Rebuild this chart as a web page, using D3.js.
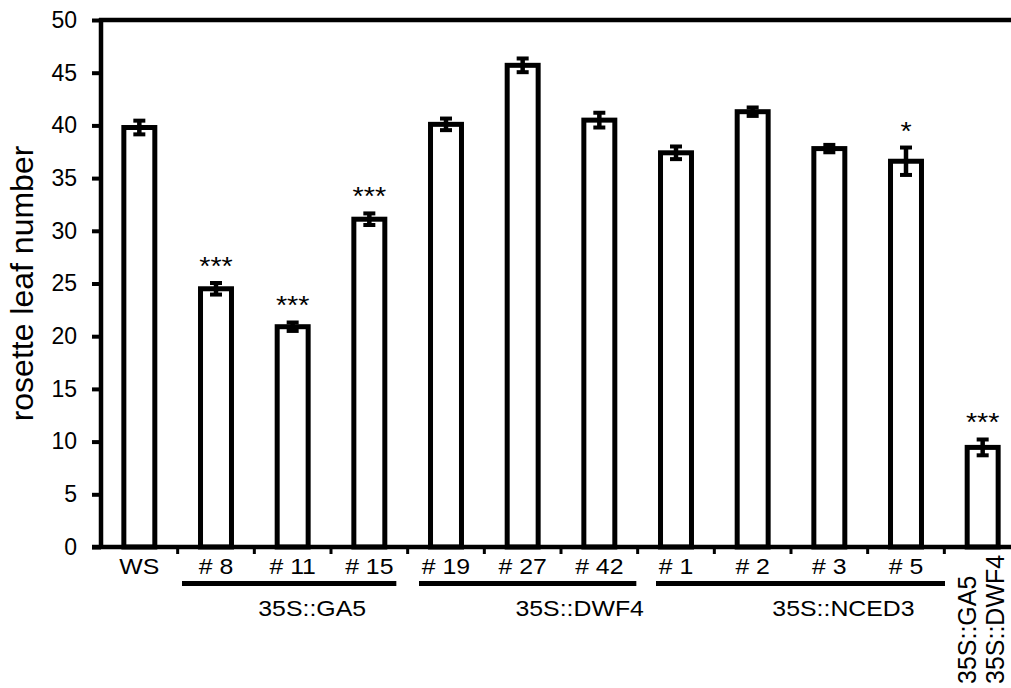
<!DOCTYPE html>
<html>
<head>
<meta charset="utf-8">
<script src="https://cdn.jsdelivr.net/npm/d3@7"></script>
<style>
  html, body { margin: 0; padding: 0; background: #fff; }
  svg { display: block; font-family: "Liberation Sans", Arial, Helvetica, sans-serif; }
</style>
</head>
<body>
<svg id="chart" width="1011" height="688"></svg>
<script>
// ---- data ----
const categories = ["WS", "# 8", "# 11", "# 15", "# 19", "# 27", "# 42", "# 1", "# 2", "# 3", "# 5", "GA5xDWF4"];
const means  = [39.8, 24.5, 20.9, 31.1, 40.1, 45.7, 40.5, 37.4, 41.3, 37.8, 36.6, 9.45];
const errors = [0.65, 0.55, 0.4, 0.55, 0.55, 0.65, 0.7, 0.6, 0.4, 0.35, 1.3, 0.75];
const signif = ["", "***", "***", "***", "", "", "", "", "", "", "*", "***"];
const yTicks = [0, 5, 10, 15, 20, 25, 30, 35, 40, 45, 50];
const groupNames = ["35S::GA5", "35S::DWF4", "35S::NCED3"];
const groupFirst = ["# 8", "# 19", "# 1"];
const groupLast  = ["# 15", "# 42", "# 5"];
const crossLabels = ["35S::GA5", "35S::DWF4"];
const yTitle = "rosette leaf number";

(function () {
// ---- layout ----
const svg = d3.select("#chart");
const pLeft = 101, pRight = 1021, pTop = 20, pBottom = 547, W = 1011;
const x = d3.scaleBand().domain(categories).range([pLeft, pRight]).paddingInner(0.596).paddingOuter(0.298);
const y = d3.scaleLinear().domain([0, 50]).range([pBottom, pTop]);
const cx = c => x(c) + x.bandwidth() / 2;
const step = x.step();

// group line pixel tweaks (start offset from first center, end offset from last center)
const groupLineOff = [[-34, 27], [-27, 37], [-20, 39]];
const groupLabelShift = [23, 52, 43];

// y axis with ticks
const yAxis = d3.axisLeft(y).tickValues(yTicks).tickSize(9).tickPadding(15);
const gy = svg.append("g").attr("transform", `translate(${pLeft},0)`).call(yAxis);
gy.select(".domain").remove();
gy.selectAll(".tick line").attr("stroke", "#000").attr("stroke-width", 4);
gy.selectAll(".tick text").attr("font-size", 23).attr("fill", "#000")
  .attr("font-family", "Liberation Sans, Arial, sans-serif");

// bars
svg.append("g").selectAll("rect").data(categories).join("rect")
  .attr("x", c => x(c))
  .attr("y", (c, i) => y(means[i]))
  .attr("width", x.bandwidth())
  .attr("height", (c, i) => y(0) - y(means[i]))
  .attr("fill", "#fff").attr("stroke", "#000").attr("stroke-width", 5);

// frame lines
svg.append("line").attr("x1", pLeft).attr("x2", pLeft).attr("y1", y(50) - 2).attr("y2", y(0) + 2)
  .attr("stroke", "#000").attr("stroke-width", 4.5);
svg.append("line").attr("x1", pLeft - 2).attr("x2", W).attr("y1", y(50)).attr("y2", y(50))
  .attr("stroke", "#000").attr("stroke-width", 4.5);
svg.append("line").attr("x1", pLeft - 9).attr("x2", W).attr("y1", y(0)).attr("y2", y(0))
  .attr("stroke", "#000").attr("stroke-width", 4.5);

// x ticks at band boundaries
svg.append("g").selectAll("line").data(categories.slice(1)).join("line")
  .attr("x1", c => x(c) - x.paddingInner() * step / 2)
  .attr("x2", c => x(c) - x.paddingInner() * step / 2)
  .attr("y1", y(0)).attr("y2", y(0) + 7)
  .attr("stroke", "#000").attr("stroke-width", 3);

// error bars
const eg = svg.append("g").attr("stroke", "#000");
categories.forEach((c, i) => {
  const xc = cx(c), hi = y(means[i] + errors[i]), lo = y(means[i] - errors[i]);
  eg.append("line").attr("x1", xc).attr("x2", xc).attr("y1", hi).attr("y2", lo).attr("stroke-width", 4.5);
  eg.append("line").attr("x1", xc - 6).attr("x2", xc + 6).attr("y1", hi).attr("y2", hi).attr("stroke-width", 4);
  eg.append("line").attr("x1", xc - 6).attr("x2", xc + 6).attr("y1", lo).attr("y2", lo).attr("stroke-width", 4);
});

// significance
svg.append("g").selectAll("text").data(categories).join("text")
  .attr("transform", (c, i) => `translate(${cx(c)},${y(means[i] + errors[i]) - 8}) scale(1.15,1)`)
  .attr("text-anchor", "middle").attr("font-size", 25).attr("fill", "#000")
  .text((c, i) => signif[i]);

// x labels
svg.append("g").selectAll("text").data(categories.slice(0, -1)).join("text")
  .attr("transform", c => `translate(${cx(c)},574) scale(1.13,1)`)
  .attr("text-anchor", "middle").attr("font-size", 22).attr("fill", "#000")
  .text(c => c);

// group lines and labels
groupNames.forEach((g, k) => {
  const x1 = cx(groupFirst[k]) + groupLineOff[k][0];
  const x2 = cx(groupLast[k]) + groupLineOff[k][1];
  svg.append("line").attr("x1", x1).attr("x2", x2).attr("y1", 583.5).attr("y2", 583.5)
    .attr("stroke", "#000").attr("stroke-width", 5);
  svg.append("text")
    .attr("transform", `translate(${(x1 + x2) / 2 + groupLabelShift[k]},616) scale(1.13,1)`)
    .attr("text-anchor", "middle").attr("font-size", 22).attr("fill", "#000").text(g);
});

// rotated labels for the last bar
const lastC = cx(categories[categories.length - 1]);
crossLabels.forEach((t, k) => {
  svg.append("text")
    .attr("transform", `translate(${lastC - 7 + k * 28},684) rotate(-90)`)
    .attr("text-anchor", "start").attr("font-size", 25).attr("fill", "#000").text(t);
});

// y title
svg.append("text")
  .attr("transform", `translate(33,${(y(0) + y(50)) / 2}) rotate(-90)`)
  .attr("text-anchor", "middle").attr("font-size", 32).attr("fill", "#000").text(yTitle);
})();
</script>
</body>
</html>
